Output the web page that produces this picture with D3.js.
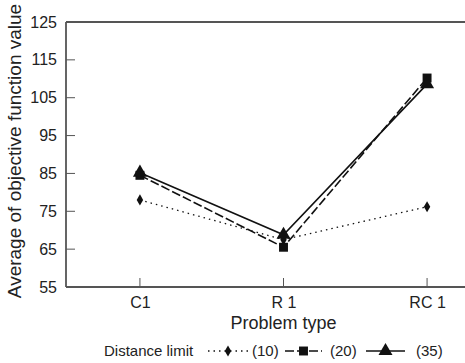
<!DOCTYPE html>
<meta charset="utf-8">
<head>
  <style>
    html, body { margin: 0; padding: 0; background: #fff; }
    body { font-family: 'Liberation Sans', Arial, sans-serif; }
  </style>
  <script src="https://d3js.org/d3.v7.min.js"></script>
</head>
<body>
  <div id="my_dataviz"></div>
  <script>
    // Data
    const problemTypes = ["C1", "R 1", "RC 1"];
    const limit10 = [78, 67.5, 76.2];
    const limit20 = [84.5, 65.5, 110.2];
    const limit35 = [85.2, 68.8, 108.6];
    const yTicks = [55, 65, 75, 85, 95, 105, 115, 125];
    const seriesNames = ["(10)", "(20)", "(35)"];

    const W = 465, H = 363;
    const margin = { top: 22, right: -36, bottom: 76, left: 66 },
      width = W - margin.left - margin.right,
      height = H - margin.top - margin.bottom;

    const font = "'Liberation Sans', Arial, sans-serif";

    const svg = d3.select("#my_dataviz")
      .append("svg")
      .attr("width", W)
      .attr("height", H)
      .style("display", "block")
      .style("font-family", font);

    const g = svg.append("g")
      .attr("transform", `translate(${margin.left},${margin.top})`);

    const x = d3.scalePoint()
      .domain(problemTypes)
      .range([0, width])
      .padding(0.515);

    const y = d3.scaleLinear()
      .domain([55, 125])
      .range([height, 0]);

    const axisColor = "#555";

    // y axis (ticks point inward)
    const yAxis = g.append("g")
      .call(d3.axisLeft(y).tickValues(yTicks).tickSize(0).tickPadding(9));
    yAxis.select(".domain").remove();
    yAxis.selectAll("text")
      .style("font-family", font)
      .style("font-size", "16px")
      .attr("fill", "#222");
    g.selectAll(".ytick")
      .data(yTicks.filter(d => d !== 55 && d !== 125))
      .join("line")
      .attr("class", "ytick")
      .attr("x1", 0).attr("x2", 9)
      .attr("y1", d => y(d)).attr("y2", d => y(d))
      .attr("stroke", axisColor).attr("stroke-width", 1);

    // x axis (ticks point upward)
    const xAxis = g.append("g")
      .attr("transform", `translate(0,${height})`)
      .call(d3.axisBottom(x).tickSize(0).tickPadding(10));
    xAxis.select(".domain").remove();
    xAxis.selectAll("text")
      .style("font-family", font)
      .style("font-size", "16px")
      .attr("fill", "#222");
    g.selectAll(".xtick")
      .data(problemTypes)
      .join("line")
      .attr("class", "xtick")
      .attr("x1", d => x(d)).attr("x2", d => x(d))
      .attr("y1", height).attr("y2", height - 9)
      .attr("stroke", axisColor).attr("stroke-width", 1);

    // frame
    g.append("line").attr("x1", 0).attr("x2", 0).attr("y1", 0).attr("y2", height)
      .attr("stroke", axisColor).attr("stroke-width", 1.8);
    g.append("line").attr("x1", 0).attr("x2", width).attr("y1", height).attr("y2", height)
      .attr("stroke", axisColor).attr("stroke-width", 1.8);
    g.append("line").attr("x1", 0).attr("x2", width).attr("y1", 0).attr("y2", 0)
      .attr("stroke", axisColor).attr("stroke-width", 1.8);

    // series
    const series = [
      { name: seriesNames[0], values: limit10, dash: "1.5,4", width: 1.3, marker: d3.symbolDiamond, size: 36 },
      { name: seriesNames[1], values: limit20, dash: "9,3", width: 1.6, marker: d3.symbolSquare, size: 80 },
      { name: seriesNames[2], values: limit35, dash: null, width: 1.6, marker: d3.symbolTriangle, size: 85 }
    ];

    const line = d3.line()
      .x((d, i) => x(problemTypes[i]))
      .y(d => y(d));

    series.forEach(s => {
      g.append("path")
        .datum(s.values)
        .attr("d", line)
        .attr("fill", "none")
        .attr("stroke", "#111")
        .attr("stroke-width", s.width)
        .attr("stroke-dasharray", s.dash);
      g.selectAll(null)
        .data(s.values)
        .join("path")
        .attr("transform", (d, i) => `translate(${x(problemTypes[i])},${y(d)})`)
        .attr("d", d3.symbol().type(s.marker).size(s.size))
        .attr("fill", "#111");
    });

    // axis titles
    svg.append("text")
      .attr("x", x("R 1") + margin.left)
      .attr("y", 329)
      .attr("text-anchor", "middle")
      .style("font-size", "18px")
      .attr("fill", "#222")
      .text("Problem type");

    svg.append("text")
      .attr("transform", "translate(21,151) rotate(-90)")
      .attr("text-anchor", "middle")
      .style("font-size", "19px")
      .attr("fill", "#222")
      .text("Average of objective function value");

    // legend
    const legend = svg.append("g").attr("transform", "translate(0,351)");
    legend.append("text")
      .attr("x", 104).attr("y", 5)
      .style("font-size", "15px")
      .attr("fill", "#222")
      .text("Distance limit");

    const legendPos = [
      { x1: 208, x2: 248, tx: 252 },
      { x1: 285, x2: 322, tx: 330 },
      { x1: 366, x2: 405, tx: 416 }
    ];
    series.forEach((s, i) => {
      const p = legendPos[i];
      legend.append("line")
        .attr("x1", p.x1).attr("x2", p.x2).attr("y1", 0).attr("y2", 0)
        .attr("stroke", "#111")
        .attr("stroke-width", s.width)
        .attr("stroke-dasharray", s.dash);
      legend.append("path")
        .attr("transform", `translate(${(p.x1 + p.x2) / 2},0)`)
        .attr("d", d3.symbol().type(s.marker).size(s.size))
        .attr("fill", "#111");
      legend.append("text")
        .attr("x", p.tx).attr("y", 5)
        .style("font-size", "15px")
        .attr("fill", "#222")
        .text(s.name);
    });
  </script>
</body>
